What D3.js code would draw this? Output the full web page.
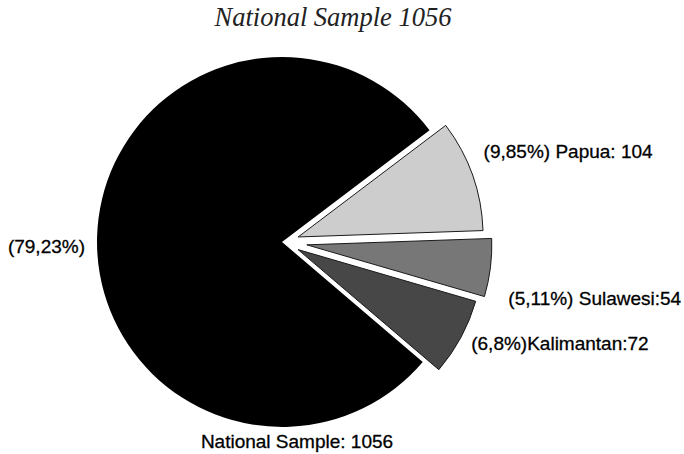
<!DOCTYPE html>
<html>
<head>
<meta charset="utf-8">
<script src="https://cdn.jsdelivr.net/npm/d3@7/dist/d3.min.js"></script>
<style>
  body { margin: 0; background: #fff; }
  text { font-family: "Liberation Sans", Arial, sans-serif; }
</style>
</head>
<body>
<div id="chart"></div>
<script>
var width = 684,
    height = 454;

// slices, in drawing order (clockwise from Papua)
var names = ["Papua", "Sulawesi", "Kalimantan", "National Sample"];
var shares = [9.85, 5.11, 6.8, 79.23];
var counts = [104, 54, 72, 1056];
var labels = ["(9,85%) Papua: 104", "(5,11%) Sulawesi:54", "(6,8%)Kalimantan:72", "(79,23%)"];
var colors = ["#cdcdcd", "#777777", "#474747", "#000000"];
var explode = [15, 23, 16, 2];

var cx = 284, cy = 242, radius = 185;
var startAngle = 52.9 * Math.PI / 180;

var svg = d3.select("#chart")
    .append("svg")
    .attr("width", width)
    .attr("height", height);

svg.append("text")
    .attr("x", 333)
    .attr("y", 26)
    .attr("text-anchor", "middle")
    .style("font-family", "'Liberation Serif', 'Times New Roman', serif")
    .style("font-style", "italic")
    .style("font-size", "26.5px")
    .attr("fill", "#222")
    .text("National Sample " + counts[3]);

var pie = d3.pie()
    .sort(null)
    .value(function (d) { return d; })
    .startAngle(startAngle)
    .endAngle(startAngle + 2 * Math.PI);

var arcs = pie(shares);

var arc = d3.arc()
    .innerRadius(0)
    .outerRadius(radius);

var g = svg.append("g")
    .attr("transform", "translate(" + cx + "," + cy + ")");

function mid(d) { return (d.startAngle + d.endAngle) / 2; }

g.selectAll("path")
    .data(arcs)
    .enter().append("path")
    .attr("d", arc)
    .attr("transform", function (d, i) {
        var a = mid(d);
        return "translate(" + (explode[i] * Math.sin(a)) + "," + (-explode[i] * Math.cos(a)) + ")";
    })
    .attr("fill", function (d, i) { return colors[i]; })
    .attr("stroke", function (d, i) { return i < 3 ? "#1a1a1a" : "none"; })
    .attr("stroke-width", 1)
    .attr("stroke-linejoin", "round");

// label nudges relative to a point just outside each slice
var labelR = radius + 30;
var nudge = [[-3, -12], [11, 36], [-2, 6]];

function styleLabel(sel) {
    sel.style("font-size", "19px")
        .attr("fill", "#000")
        .attr("stroke", "#000")
        .attr("stroke-width", 0.3);
}

g.selectAll("text.slice")
    .data(arcs.slice(0, 3))
    .enter().append("text")
    .attr("class", "slice")
    .attr("x", function (d, i) { return labelR * Math.sin(mid(d)) + nudge[i][0]; })
    .attr("y", function (d, i) { return -labelR * Math.cos(mid(d)) + nudge[i][1]; })
    .call(styleLabel)
    .text(function (d, i) { return labels[i]; });

g.append("text")
    .attr("x", -radius - 14)
    .attr("y", 11)
    .attr("text-anchor", "end")
    .call(styleLabel)
    .text(labels[3]);

g.append("text")
    .attr("x", 13)
    .attr("y", radius + 21)
    .attr("text-anchor", "middle")
    .call(styleLabel)
    .text(names[3] + ": " + counts[3]);
</script>
</body>
</html>
